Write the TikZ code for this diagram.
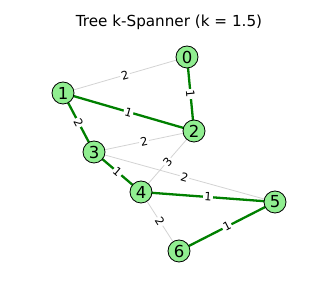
\documentclass[tikz,border=0pt]{standalone}
\usepackage{fontspec}
\setmainfont{DejaVu Sans}
\usetikzlibrary{backgrounds}
\begin{document}
\begin{tikzpicture}[x=1pt,y=-1pt,
  vert/.style={circle,draw=black,line width=0.8pt,fill=lightgreen,minimum size=22pt,inner sep=0pt,font=\fontsize{16.5}{16.5}\selectfont},
  tree/.style={draw=treegreen,line width=2.3pt},
  other/.style={draw=lightgray2,line width=0.8pt},
  wlab/.style={fill=white,inner sep=1.2pt,sloped,font=\fontsize{11.5}{11.5}\selectfont}]
\definecolor{lightgreen}{HTML}{90EE90}
\definecolor{treegreen}{HTML}{008000}
\definecolor{lightgray2}{HTML}{D3D3D3}
\useasboundingbox (0,0) rectangle (330,307);
\node[font=\fontsize{15.2}{15.2}\selectfont] (title) at (169,22) {Tree k-Spanner (k = 1.5)};
% vertices
\node[vert] (n0) at (187,57) {0};
\node[vert] (n1) at (63,93) {1};
\node[vert] (n2) at (194,131) {2};
\node[vert] (n3) at (94,152) {3};
\node[vert] (n4) at (141,192) {4};
\node[vert] (n5) at (275,202) {5};
\node[vert] (n6) at (179,251) {6};
\begin{scope}[on background layer]
% non-tree edges
\draw[other] (n0.center) -- node[wlab]{2} (n1.center);
\draw[other] (n2.center) -- node[wlab]{2} (n3.center);
\draw[other] (n3.center) -- node[wlab]{2} (n5.center);
\draw[other] (n2.center) -- node[wlab]{3} (n4.center);
\draw[other] (n4.center) -- node[wlab]{2} (n6.center);
% tree edges
\draw[tree] (n0.center) -- node[wlab]{1} (n2.center);
\draw[tree] (n1.center) -- node[wlab]{1} (n2.center);
\draw[tree] (n1.center) -- node[wlab]{2} (n3.center);
\draw[tree] (n3.center) -- node[wlab]{1} (n4.center);
\draw[tree] (n4.center) -- node[wlab]{1} (n5.center);
\draw[tree] (n5.center) -- node[wlab]{1} (n6.center);
\end{scope}
\end{tikzpicture}
\end{document}
